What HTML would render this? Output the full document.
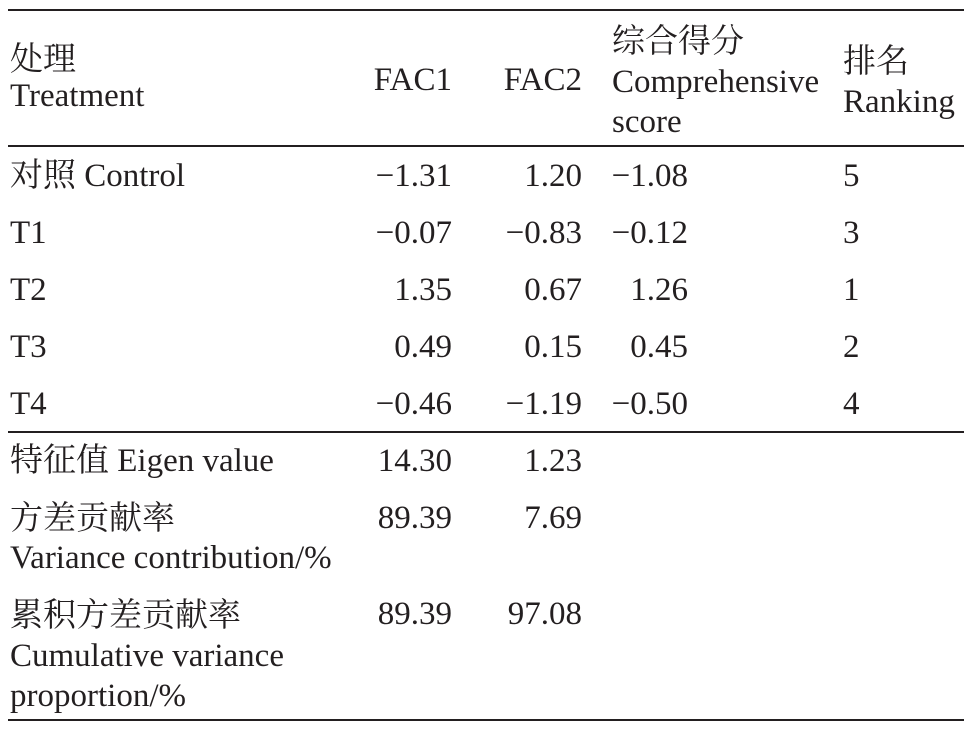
<!DOCTYPE html>
<html><head><meta charset="utf-8"><style>
body{margin:0;background:#fff;width:972px;height:731px;position:relative;overflow:hidden;
font-family:"Liberation Serif","Noto Serif CJK SC",serif;font-size:33px;color:#231f20}
.t{position:absolute;line-height:36px;white-space:nowrap}
.r{text-align:right}
.rule{position:absolute;left:8px;width:956px;background:#231f20}
</style></head><body>
<div class="rule" style="top:9px;height:2px"></div>
<div class="rule" style="top:145px;height:1.5px"></div>
<div class="rule" style="top:431px;height:1.5px"></div>
<div class="rule" style="top:719px;height:2px"></div>

<div class="t" style="left:10px;top:42px">处理<br>Treatment</div>
<div class="t r" style="right:520px;top:62px">FAC1</div>
<div class="t r" style="right:390px;top:62px">FAC2</div>
<div class="t" style="left:612px;top:22px;line-height:40px">综合得分<br>Comprehensive<br>score</div>
<div class="t" style="left:843px;top:42px;line-height:40px">排名<br>Ranking</div>

<div class="t" style="left:10px;top:158px">对照 Control</div>
<div class="t r" style="right:520px;top:158px">−1.31</div>
<div class="t r" style="right:390px;top:158px">1.20</div>
<div class="t r" style="right:284px;top:158px">−1.08</div>
<div class="t" style="left:843px;top:158px">5</div>

<div class="t" style="left:10px;top:215px">T1</div>
<div class="t r" style="right:520px;top:215px">−0.07</div>
<div class="t r" style="right:390px;top:215px">−0.83</div>
<div class="t r" style="right:284px;top:215px">−0.12</div>
<div class="t" style="left:843px;top:215px">3</div>

<div class="t" style="left:10px;top:272px">T2</div>
<div class="t r" style="right:520px;top:272px">1.35</div>
<div class="t r" style="right:390px;top:272px">0.67</div>
<div class="t r" style="right:284px;top:272px">1.26</div>
<div class="t" style="left:843px;top:272px">1</div>

<div class="t" style="left:10px;top:329px">T3</div>
<div class="t r" style="right:520px;top:329px">0.49</div>
<div class="t r" style="right:390px;top:329px">0.15</div>
<div class="t r" style="right:284px;top:329px">0.45</div>
<div class="t" style="left:843px;top:329px">2</div>

<div class="t" style="left:10px;top:386px">T4</div>
<div class="t r" style="right:520px;top:386px">−0.46</div>
<div class="t r" style="right:390px;top:386px">−1.19</div>
<div class="t r" style="right:284px;top:386px">−0.50</div>
<div class="t" style="left:843px;top:386px">4</div>

<div class="t" style="left:10px;top:443px">特征值 Eigen value</div>
<div class="t r" style="right:520px;top:443px">14.30</div>
<div class="t r" style="right:390px;top:443px">1.23</div>

<div class="t" style="left:10px;top:500px;line-height:39px">方差贡献率<br>Variance contribution/%</div>
<div class="t r" style="right:520px;top:500px">89.39</div>
<div class="t r" style="right:390px;top:500px">7.69</div>

<div class="t" style="left:10px;top:596px;line-height:40px">累积方差贡献率<br>Cumulative variance<br>proportion/%</div>
<div class="t r" style="right:520px;top:596px">89.39</div>
<div class="t r" style="right:390px;top:596px">97.08</div>
</body></html>
